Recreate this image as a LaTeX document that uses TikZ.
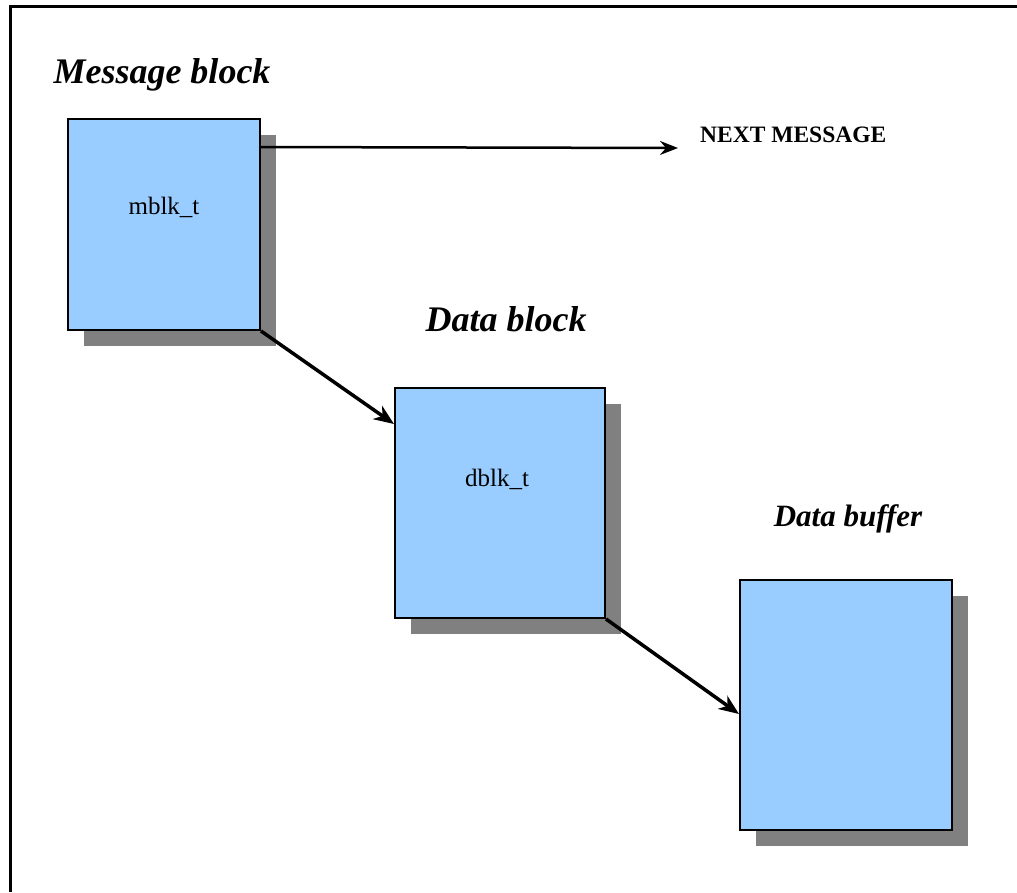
\documentclass[tikz,border=0pt]{standalone}
\usepackage{fontspec}
\setmainfont{Liberation Serif}
\usetikzlibrary{arrows.meta,calc,shadows}
\definecolor{boxblue}{HTML}{99CCFF}
\definecolor{shadowgray}{HTML}{808080}
\tikzset{
  blk/.style={draw=black,line width=2pt,fill=boxblue,inner sep=0pt,
    general shadow={fill=shadowgray,shadow xshift=16pt,shadow yshift=-16pt}},
  ttl/.style={anchor=base,inner sep=0pt,font=\bfseries\itshape\fontsize{36}{40}\selectfont},
  lbl/.style={anchor=base,inner sep=0pt,font=\fontsize{25}{28}\selectfont},
  arr/.style={line width=3.5pt,-{Stealth[length=20pt,width=16pt,inset=6pt]}},
  arrthin/.style={line width=2.5pt,-{Stealth[length=18pt,width=14pt,inset=6pt]}},
}
\begin{document}
\begin{tikzpicture}[x=1pt,y=-1pt]
\useasboundingbox (0,0) rectangle (1017,892);
\fill[white] (0,0) rectangle (1017,892);
% frame
\draw[line width=3pt] (10,892) -- (10,6.5) -- (1017,6.5);
% boxes
\node[blk,minimum width=192pt,minimum height=211pt] (mblk) at (164,224.5) {};
\node[blk,minimum width=210pt,minimum height=230pt] (dblk) at (500,503) {};
\node[blk,minimum width=212pt,minimum height=250pt] (buf) at (846,705) {};
% labels inside
\node[lbl] (mlab) at (164,214) {mblk\_t};
\node[lbl] (dlab) at (497,486) {dblk\_t};
% titles
\node[ttl] (t1) at (162,83) {Message block};
\node[ttl] (t2) at (506,331) {Data block};
\node[ttl,font=\bfseries\itshape\fontsize{31}{34}\selectfont] (t3) at (848,526) {Data buffer};
\node[anchor=base west,inner sep=0pt,font=\bfseries\fontsize{23.5}{26}\selectfont] (nm) at (700,142) {NEXT MESSAGE};
% connectors
\coordinate (nstart) at ($(mblk.north east)+(-2,29)$);
\coordinate (nend) at (678,148);
\draw[arrthin] (nstart) -- (nend);
\draw[arr] (mblk.south east) -- ($(dblk.north west)+(0,37)$);
\draw[arr] (dblk.south east) -- ($(buf.north west)+(0,135)$);
\end{tikzpicture}
\end{document}
